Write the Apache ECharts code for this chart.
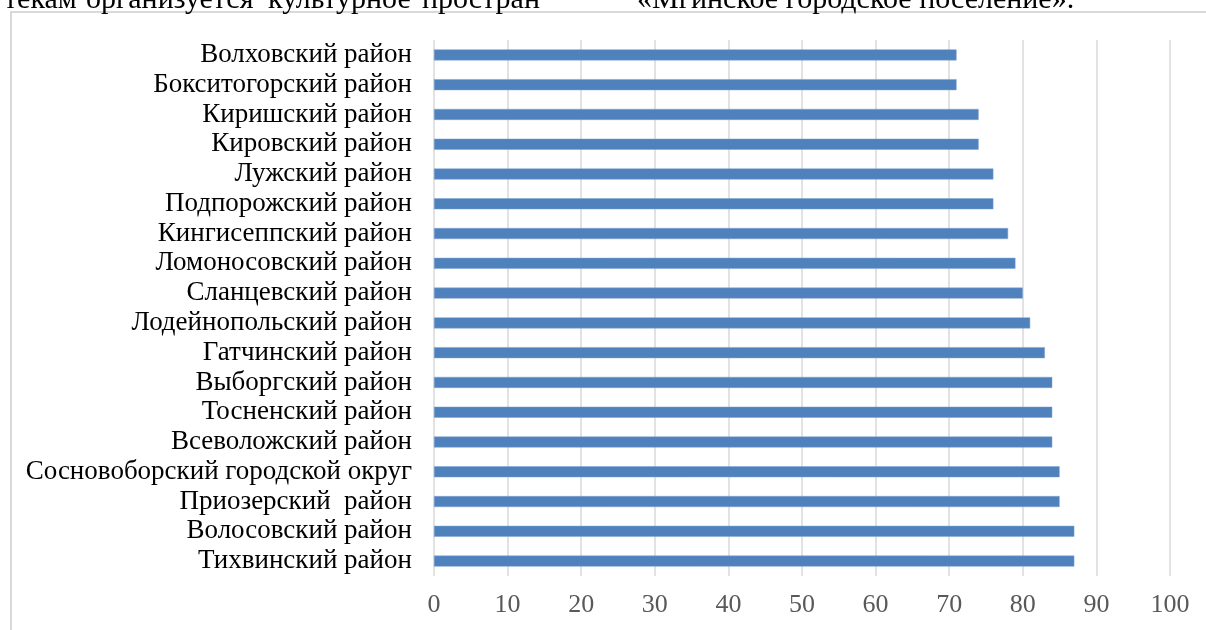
<!DOCTYPE html>
<html>
<head>
<meta charset="utf-8">
<script src="https://cdn.jsdelivr.net/npm/echarts@6/dist/echarts.min.js"></script>
<style>
html,body{margin:0;padding:0;background:#fff;}
#chart{width:1206px;height:630px;}
</style>
</head>
<body>
<div id="chart"></div>
<script>
const categories = [
  'Волховский район',
  'Бокситогорский район',
  'Киришский район',
  'Кировский район',
  'Лужский район',
  'Подпорожский район',
  'Кингисеппский район',
  'Ломоносовский район',
  'Сланцевский район',
  'Лодейнопольский район',
  'Гатчинский район',
  'Выборгский район',
  'Тосненский район',
  'Всеволожский район',
  'Сосновоборский городской округ',
  'Приозерский  район',
  'Волосовский район',
  'Тихвинский район'
];
const values = [71, 71, 74, 74, 76, 76, 78, 79, 80, 81, 83, 84, 84, 84, 85, 85, 87, 87];
const axisTicks = [0, 10, 20, 30, 40, 50, 60, 70, 80, 90, 100];
const headerWords = ['текам', 'организуется', 'культурное', 'простран', '«Мгинское городское поселение».'];

const serif = '"Liberation Serif", "DejaVu Serif", serif';
const headerLeft = [4, 86, 268, 422, 637];

const chart = echarts.init(document.getElementById('chart'), null, {renderer: 'canvas'});
const graphics = [
  {type: 'rect', silent: true, z: 0,
   shape: {x: 11, y: 12, width: 1300, height: 700},
   style: {fill: 'none', stroke: '#d9d9d9', lineWidth: 2}}
];
headerWords.forEach(function (w, i) {
  graphics.push({type: 'text', silent: true, left: headerLeft[i], top: -15,
    style: {text: w, fill: '#000', font: '30px ' + serif}});
});

chart.setOption({
  backgroundColor: '#ffffff',
  animation: false,
  grid: {left: 434, right: 36, top: 40, bottom: 54, containLabel: false},
  xAxis: {
    type: 'value',
    min: axisTicks[0],
    max: axisTicks[axisTicks.length - 1],
    interval: axisTicks[1] - axisTicks[0],
    axisLine: {show: false},
    axisTick: {show: false},
    splitLine: {show: true, lineStyle: {color: '#d9d9d9', width: 1.5}},
    axisLabel: {color: '#595959', fontSize: 26, fontFamily: serif, margin: 16}
  },
  yAxis: {
    type: 'category',
    data: categories,
    inverse: true,
    axisLine: {show: false},
    axisTick: {show: false},
    splitLine: {show: false},
    axisLabel: {color: '#000000', fontSize: 27, fontFamily: serif, margin: 22, interval: 0, hideOverlap: false}
  },
  series: [{
    type: 'bar',
    data: values,
    barWidth: 11,
    itemStyle: {color: '#4f81bd', borderColor: '#7fa3d1', borderWidth: 0.5},
    silent: true
  }],
  graphic: graphics
});
</script>
</body>
</html>
